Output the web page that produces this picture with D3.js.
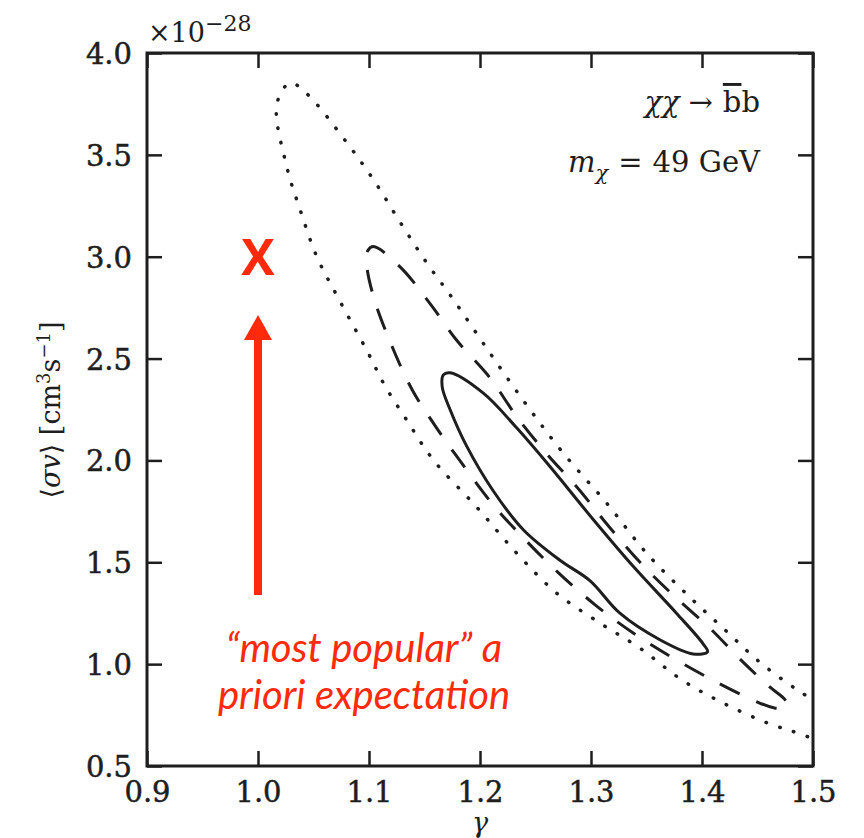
<!DOCTYPE html>
<html><head><meta charset="utf-8">
<script src="https://cdn.jsdelivr.net/npm/d3@7/dist/d3.min.js"></script>
<style>body{margin:0;background:#fff}svg{display:block}</style>
</head><body><svg id="c" width="864" height="838"></svg>
<script>
const xTicks = [0.9, 1.0, 1.1, 1.2, 1.3, 1.4, 1.5];
const yTicks = [0.5, 1.0, 1.5, 2.0, 2.5, 3.0, 3.5, 4.0];
// 3-sigma (dotted) contour, open curve leaving the right edge
const outerDotted = [
  [1.515,0.775],[1.486,0.873],[1.452,1.010],[1.421,1.167],[1.389,1.329],[1.350,1.545],
  [1.314,1.791],[1.275,2.036],[1.242,2.272],[1.209,2.527],[1.176,2.79],[1.152,2.97],
  [1.128,3.17],[1.105,3.37],[1.080,3.56],[1.044,3.80],[1.029,3.853],[1.017,3.75],
  [1.026,3.44],[1.038,3.23],[1.053,3.0],[1.072,2.80],[1.099,2.53],[1.114,2.37],
  [1.134,2.198],[1.158,2.002],[1.197,1.771],[1.233,1.545],[1.269,1.349],[1.308,1.202],
  [1.344,1.079],[1.382,0.922],[1.419,0.809],[1.459,0.711],[1.486,0.662],[1.515,0.603]
];
// 2-sigma (dashed) closed contour
const midDashed = [
  [1.104,3.05],[1.128,2.95],[1.155,2.77],[1.179,2.59],[1.209,2.405],[1.234,2.208],
  [1.261,2.027],[1.288,1.865],[1.315,1.683],[1.344,1.501],[1.374,1.339],[1.407,1.177],
  [1.437,1.010],[1.461,0.888],[1.475,0.824],[1.477,0.789],[1.466,0.784],[1.452,0.809],
  [1.413,0.912],[1.374,1.03],[1.338,1.153],[1.304,1.29],[1.270,1.452],[1.241,1.609],
  [1.212,1.781],[1.186,1.968],[1.161,2.159],[1.139,2.346],[1.121,2.557],[1.105,2.787],
  [1.098,2.959],[1.099,3.03]
];
// 1-sigma (solid) closed contour
const innerSolid = [
  [1.173,2.43],[1.203,2.33],[1.233,2.16],[1.263,1.97],[1.302,1.71],[1.338,1.48],[1.377,1.25],
  [1.401,1.10],[1.405,1.06],[1.392,1.05],[1.362,1.12],[1.326,1.25],[1.299,1.41],[1.272,1.51],
  [1.239,1.66],[1.212,1.85],[1.188,2.07],[1.173,2.25],[1.166,2.36],[1.167,2.42]
];
const expectation = {x: 1.0, y: 3.0};
const noteLines = ['“most popular” a', 'priori expectation'];

const svg = d3.select('#c');
const L = 147, R = 813, T = 53, B = 766;
const x = d3.scaleLinear().domain([0.9, 1.5]).range([L, R]);
const y = d3.scaleLinear().domain([0.5, 4.0]).range([B, T]);
const ink = '#1e1e1e';
const serif = '"DejaVu Serif", "Liberation Serif", serif';

svg.append('defs').append('clipPath').attr('id','clip')
  .append('rect').attr('x',L).attr('y',T).attr('width',R-L).attr('height',B-T);

const tk = 15;
const fmt = d3.format('.1f');
const gx = svg.append('g').attr('transform',`translate(0,${B})`)
  .call(d3.axisBottom(x).tickValues(xTicks).tickFormat(fmt).tickSize(-tk).tickPadding(15));
const gxt = svg.append('g').attr('transform',`translate(0,${T})`)
  .call(d3.axisTop(x).tickValues(xTicks).tickFormat('').tickSize(-tk));
const gy = svg.append('g').attr('transform',`translate(${L},0)`)
  .call(d3.axisLeft(y).tickValues(yTicks).tickFormat(fmt).tickSize(-tk).tickPadding(15));
const gyr = svg.append('g').attr('transform',`translate(${R},0)`)
  .call(d3.axisRight(y).tickValues(yTicks).tickFormat('').tickSize(-tk));
[gx,gxt,gy,gyr].forEach(g=>{
  g.select('.domain').remove();
  g.selectAll('line').attr('stroke',ink).attr('stroke-width',2.5);
  g.selectAll('text').attr('fill',ink).attr('font-family',serif).attr('font-size',29)
    .attr('stroke',ink).attr('stroke-width',0.5);
});
gy.selectAll('text').attr('dy','0.36em');
svg.append('rect').attr('x',L).attr('y',T).attr('width',R-L).attr('height',B-T)
  .attr('fill','none').attr('stroke',ink).attr('stroke-width',3);

// exponent
const ex = svg.append('text').attr('x',148).attr('y',42).attr('font-family',serif)
  .attr('font-size',27).attr('fill',ink);
ex.append('tspan').text('×10');
ex.append('tspan').attr('dy',-11).attr('font-size',22).text('−28');

// axis labels
svg.append('text').attr('transform','translate(60,410) rotate(-90)').attr('text-anchor','middle')
  .attr('font-family',serif).attr('font-size',27).attr('fill',ink)
  .html('⟨<tspan font-style="italic">σv</tspan>⟩ [cm<tspan dy="-10" font-size="18">3</tspan><tspan dy="10">s</tspan><tspan dy="-10" font-size="18">−1</tspan><tspan dy="10">]</tspan>');
svg.append('text').attr('x',(L+R)/2).attr('y',832).attr('text-anchor','middle')
  .attr('font-family',serif).attr('font-style','italic').attr('font-size',27).attr('fill',ink).text('γ');

// legend annotations
svg.append('text').attr('x',760).attr('y',112).attr('text-anchor','end')
  .attr('font-family',serif).attr('font-size',29).attr('fill',ink)
  .html('<tspan font-style="italic">χχ</tspan><tspan dx="9">→</tspan><tspan dx="10" text-decoration="overline">b</tspan>b');
svg.append('text').attr('x',760).attr('y',172).attr('text-anchor','end')
  .attr('font-family',serif).attr('font-size',29).attr('fill',ink)
  .html('<tspan font-style="italic">m</tspan><tspan font-style="italic" font-size="21" dy="8">χ</tspan><tspan dy="-8" dx="10">=</tspan><tspan dx="10">49 GeV</tspan>');

// contours
const plot = svg.append('g').attr('clip-path','url(#clip)');
const lineOpen = d3.line().x(d=>x(d[0])).y(d=>y(d[1])).curve(d3.curveCatmullRom.alpha(0.5));
const lineClosed = d3.line().x(d=>x(d[0])).y(d=>y(d[1])).curve(d3.curveCatmullRomClosed.alpha(0.5));
plot.append('path').attr('d',lineOpen(outerDotted)).attr('fill','none').attr('stroke',ink)
  .attr('stroke-width',3.5).attr('stroke-linecap','round').attr('stroke-dasharray','0.5,14');
plot.append('path').attr('d',lineClosed(midDashed)).attr('fill','none').attr('stroke',ink)
  .attr('stroke-width',3).attr('stroke-dasharray','22,18');
plot.append('path').attr('d',lineClosed(innerSolid)).attr('fill','none').attr('stroke',ink)
  .attr('stroke-width',3);

// red annotation
const red = '#ff2a0a';
const ex0 = x(expectation.x), ey0 = y(expectation.y);
svg.append('text').attr('x',ex0).attr('y',ey0).attr('text-anchor','middle').attr('dy','0.36em')
  .attr('font-family','"Open Sans", sans-serif').attr('font-weight',700).attr('font-size',50)
  .attr('fill',red).text('X');
svg.append('line').attr('x1',ex0).attr('x2',ex0).attr('y1',595).attr('y2',338)
  .attr('stroke',red).attr('stroke-width',8);
svg.append('path').attr('d',`M${ex0},${315} L${ex0-14},${340} L${ex0+14},${340} Z`).attr('fill',red);
noteLines.forEach((t,i)=>{
  svg.append('text').attr('x',364).attr('y',662 + i*47).attr('text-anchor','middle')
    .attr('font-family','Lato, "Open Sans", sans-serif').attr('font-style','italic')
    .attr('font-size',40).attr('fill',red).text(t);
});
</script></body></html>
